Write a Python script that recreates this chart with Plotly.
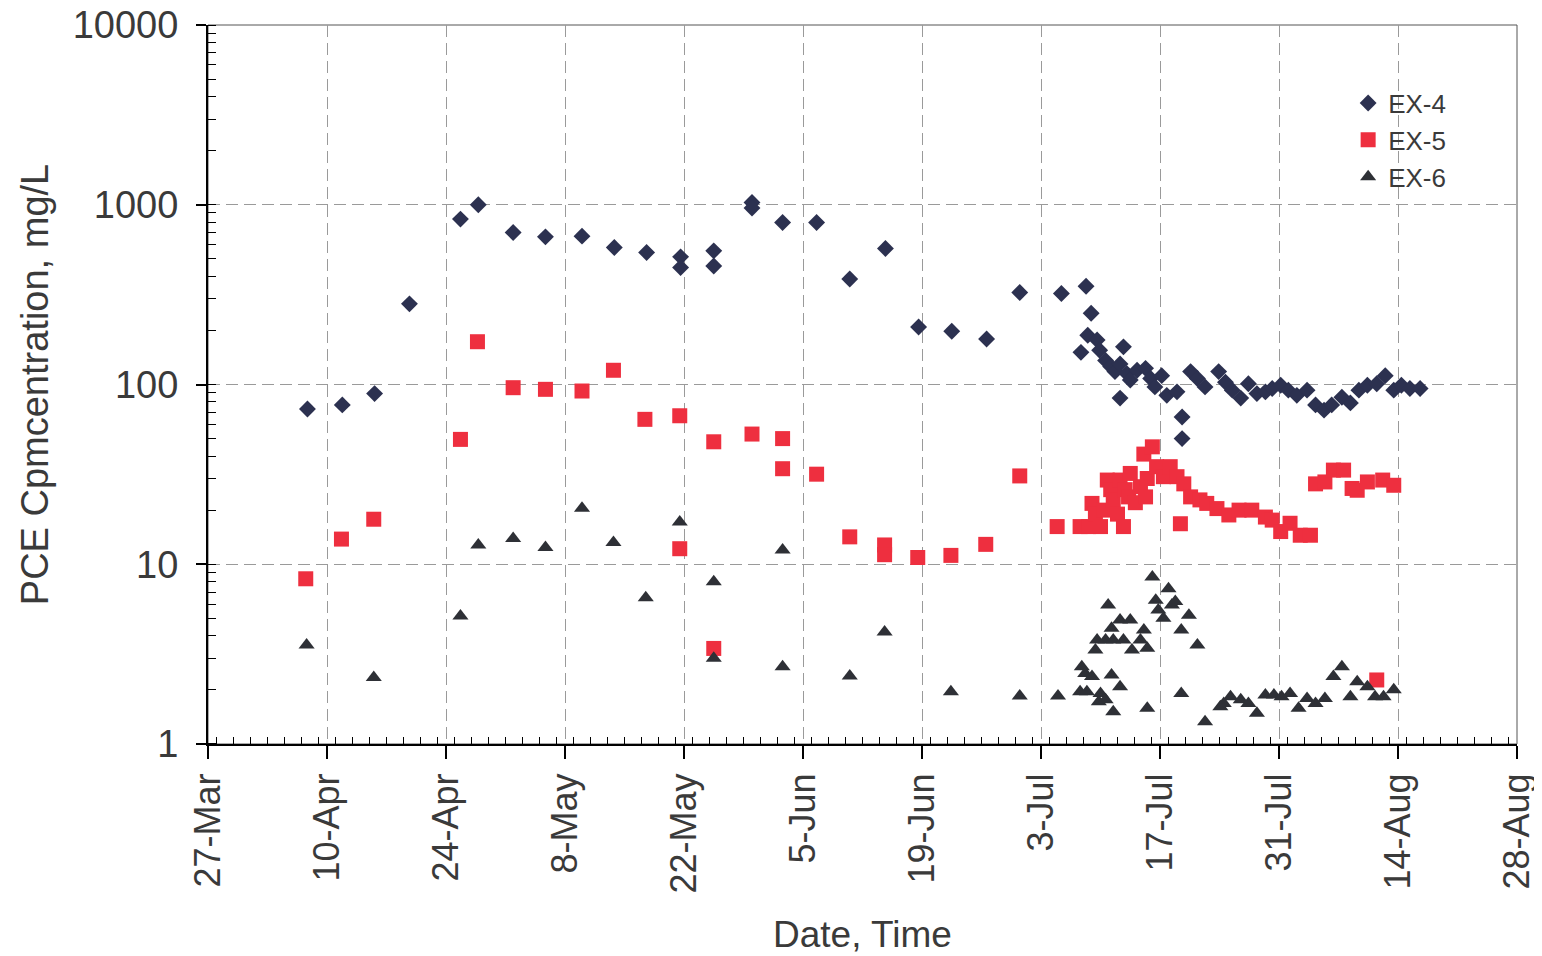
import pandas as pd
import plotly.graph_objects as go

# x positions: days elapsed since 27-Mar (sampling date/time), y: PCE concentration (mg/L)
start_date = "2001-03-27"

ex4_days = [11.7, 15.8, 19.6, 23.7, 29.7, 31.8, 35.9, 39.7, 44.0, 47.8, 51.6, 55.6, 55.6,
            59.5, 59.5, 64.0, 64.0, 67.6, 71.6, 75.5, 79.7, 83.6, 87.5, 91.6, 95.5, 100.4,
            102.7, 103.3, 103.5, 103.9, 104.6, 104.9, 105.6, 106.2, 106.7, 107.3, 107.3,
            107.7, 108.1, 108.5, 109.3, 110.3, 110.9, 111.4, 112.2, 112.8, 114.0, 114.6,
            114.6, 115.6, 116.4, 117.3, 118.9, 119.7, 120.5, 121.5, 122.4, 123.4, 124.4,
            125.2, 126.2, 127.1, 128.1, 129.3, 130.3, 131.3, 132.2, 133.4, 134.4, 135.4,
            136.4, 137.5, 138.5, 139.5, 140.4, 141.4, 142.6]
ex4_vals = [73, 77, 89, 281, 832, 1000, 701, 663, 669, 578, 543, 513, 448,
            554, 456, 1030, 960, 797, 797, 386, 571, 209, 198, 179, 325, 321,
            151, 352, 188, 249, 177, 155, 136, 126, 118, 84, 130,
            162, 115, 106, 120, 123, 108, 97, 112, 87, 91, 66,
            50, 118, 108, 97, 118, 103, 93, 84, 101, 89, 91,
            95, 99, 93, 87, 93, 77, 72, 77, 85, 79, 93,
            99, 101, 112, 93, 99, 95, 95]

ex5_days = [11.5, 15.7, 19.5, 29.7, 31.7, 35.9, 39.7, 44.0, 47.7, 51.4, 55.5, 55.5,
            59.5, 59.5, 64.0, 67.6, 67.6, 71.6, 75.5, 79.6, 79.6, 83.5, 87.4, 91.5,
            95.5, 99.9, 102.6, 103.6, 104.0, 104.4, 105.0, 105.4, 105.8, 106.2, 106.5,
            107.0, 107.3, 107.7, 107.9, 108.3, 108.5, 109.1, 109.7, 110.1, 110.3, 110.5,
            111.1, 111.6, 112.4, 113.2, 114.0, 114.4, 114.8, 115.6, 116.7, 117.5, 118.7,
            120.1, 121.3, 122.8, 124.4, 125.2, 126.2, 127.3, 128.5, 129.7, 130.3, 131.4,
            132.4, 133.6, 134.6, 135.2, 136.4, 137.5, 138.2, 139.5]
ex5_vals = [8.3, 13.8, 17.8, 49.5, 173, 96, 94, 92, 120, 64, 67, 12.2,
            48, 3.4, 53, 50, 34, 31.7, 14.2, 12.8, 11.3, 10.9, 11.2, 12.9,
            31, 16.2, 16.2, 16.2, 21.8, 19, 16.2, 20, 29.4, 26, 22.8,
            19, 29.4, 16.2, 26, 23.7, 32, 22, 27, 41, 23.7, 30,
            45, 34.9, 30.7, 34.9, 30.7, 16.8, 28, 23.7, 22.8, 21.8, 20.4,
            18.8, 20, 20, 18.3, 17.6, 15.2, 16.9, 14.5, 14.5, 28, 28.7,
            33.4, 33.4, 26.4, 25.8, 28.7, 2.27, 29.4, 27.5]

ex6_days = [11.6, 19.5, 29.7, 31.8, 35.9, 39.7, 44.0, 47.7, 51.5, 55.5, 59.5, 59.5,
            67.6, 67.6, 75.5, 79.6, 87.4, 95.5, 100.0, 102.6, 102.8, 103.2, 103.4, 104.0,
            104.4, 104.6, 104.8, 105.0, 105.6, 105.6, 105.9, 106.3, 106.3, 106.5, 106.5,
            107.3, 107.3, 107.7, 108.5, 108.7, 109.7, 110.1, 110.5, 110.5, 111.1, 111.5,
            111.8, 112.4, 113.0, 113.4, 113.8, 114.5, 114.5, 115.4, 116.4, 117.3, 119.1,
            119.5, 120.3, 121.5, 122.4, 123.4, 124.4, 125.4, 126.3, 127.3, 128.3, 129.3,
            130.3, 131.4, 132.4, 133.4, 134.4, 135.2, 136.4, 137.3, 138.3, 139.5]
ex6_vals = [3.55, 2.34, 5.15, 12.8, 13.9, 12.4, 20.5, 13.2, 6.5, 17.2, 8.0, 3.0,
            12.0, 2.69, 2.39, 4.2, 1.95, 1.85, 1.85, 1.95, 2.69, 2.47, 1.95, 2.37,
            3.33, 3.79, 1.72, 1.91, 1.76, 3.79, 5.93, 4.4, 2.42, 1.51, 3.79,
            4.9, 2.08, 3.79, 4.9, 3.33, 3.79, 4.3, 3.41, 1.58, 8.5, 6.3,
            5.56, 5.0, 7.3, 5.93, 6.2, 4.3, 1.91, 5.2, 3.55, 1.33, 1.61,
            1.68, 1.83, 1.76, 1.68, 1.48, 1.87, 1.87, 1.83, 1.91, 1.58, 1.79,
            1.68, 1.79, 2.37, 2.69, 1.83, 2.22, 2.08, 1.83, 1.83, 2.0]

y_tickvals = [1, 10, 100, 1000, 10000]
y_ticktext = ["1", "10", "100", "1000", "10000"]
x_range = ["2001-03-27", "2001-08-28"]
y_log_range = [-0.0002, 4.0002]

base = pd.Timestamp(start_date)
def to_dates(days):
    return base + pd.to_timedelta(days, unit="D")

FONT = "Liberation Sans, Arial, sans-serif"
TXT = "#3a3a3a"
GRID_DASH = "12px,6px"

fig = go.Figure()
fig.add_trace(go.Scatter(x=to_dates(ex4_days), y=ex4_vals, mode="markers", name="EX-4",
                         legendgroup="a",
                         marker=dict(symbol="diamond", size=13, color="#2c3150",
                                     line=dict(width=0))))
fig.add_trace(go.Scatter(x=to_dates(ex5_days), y=ex5_vals, mode="markers", name="EX-5",
                         legendgroup="b",
                         marker=dict(symbol="square", size=15, color="#ee2f3f",
                                     line=dict(width=0))))
fig.add_trace(go.Scatter(x=to_dates(ex6_days), y=ex6_vals, mode="markers", name="EX-6",
                         legendgroup="c",
                         marker=dict(symbol="triangle-up", size=14, color="#2e3036",
                                     line=dict(width=0))))

# thin frame on the top / right of the plot area
fig.add_shape(type="rect", xref="paper", yref="paper", x0=0, x1=1, y0=0, y1=1,
              line=dict(color="#555555", width=1), layer="below")

fig.update_layout(
    width=1542, height=956,
    margin=dict(l=200, r=33, t=17, b=220, autoexpand=False),
    paper_bgcolor="white", plot_bgcolor="white",
    font=dict(family=FONT, size=36, color=TXT),
    showlegend=True,
    legend=dict(x=0.871, y=0.924, xanchor="left", yanchor="top",
                font=dict(size=26, color=TXT), bgcolor="rgba(0,0,0,0)",
                traceorder="grouped", tracegroupgap=0, itemwidth=30),
)

fig.update_xaxes(
    type="date", range=x_range,
    tick0="2001-03-27", dtick=14 * 86400000, tickformat="%-d-%b",
    tickangle=-90, tickfont=dict(size=36, color=TXT),
    ticks="outside", ticklen=13, tickwidth=1.5, tickcolor="black",
    ticklabeloverflow="allow",
    minor=dict(ticks="inside", ticklen=7, tickwidth=1, tickcolor="black",
               dtick=2 * 86400000, showgrid=False),
    showline=True, linecolor="black", linewidth=2, mirror=False,
    showgrid=True, gridcolor="#9a9a9a", griddash=GRID_DASH, gridwidth=1,
    zeroline=False,
    title=dict(text="Date, Time", font=dict(size=37, color=TXT), standoff=29),
)
fig.update_yaxes(
    type="log", range=y_log_range,
    tickvals=y_tickvals, ticktext=y_ticktext,
    tickfont=dict(size=38, color=TXT),
    ticks="outside", ticklen=10, tickwidth=1.5, tickcolor="black",
    ticklabelstandoff=10, ticklabeloverflow="allow",
    minor=dict(ticks="inside", ticklen=8, tickwidth=1, tickcolor="black",
               dtick="D1", showgrid=False),
    showline=True, linecolor="black", linewidth=2, mirror=False,
    showgrid=True, gridcolor="#9a9a9a", griddash=GRID_DASH, gridwidth=1,
    zeroline=False,
    title=dict(text="PCE Cpmcentration, mg/L", font=dict(size=38, color=TXT), standoff=12),
)

fig.write_html("out.html")
